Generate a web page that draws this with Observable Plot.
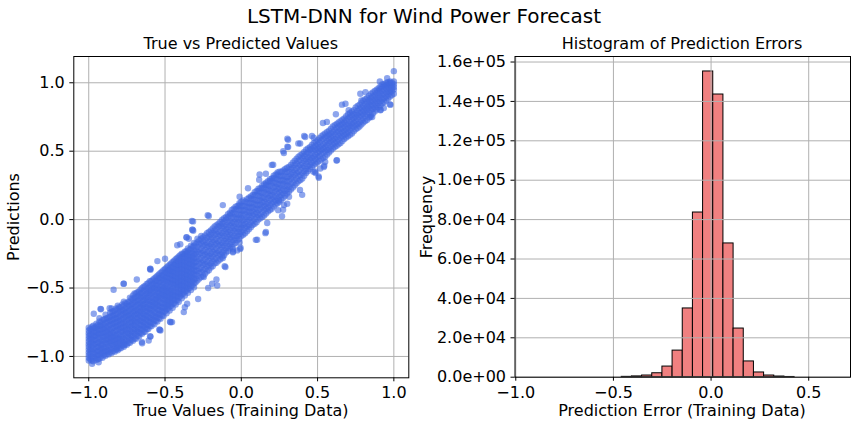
<!DOCTYPE html>
<html>
<head>
<meta charset="utf-8">
<script src="https://cdn.jsdelivr.net/npm/d3@7"></script>
<script src="https://cdn.jsdelivr.net/npm/@observablehq/plot@0.6"></script>
<style>
  html, body { margin: 0; padding: 0; background: white; }
  #fig { position: relative; width: 856px; height: 426px; background: white; font-family: "DejaVu Sans", sans-serif; color: black; overflow: hidden; }
  #fig .panel { position: absolute; top: 0; }
  #fig .lbl { position: absolute; white-space: nowrap; line-height: 1; transform: translate(-50%, -50%); }
  #fig .rot { transform: translate(-50%, -50%) rotate(-90deg); }
</style>
</head>
<body>
<div id="fig"></div>
<script>
// ---------------- Data ----------------
const figureTitle = "LSTM-DNN for Wind Power Forecast";
const scatterTitle = "True vs Predicted Values";
const histTitle = "Histogram of Prediction Errors";
const scatterXLabel = "True Values (Training Data)";
const scatterYLabel = "Predictions";
const histXLabel = "Prediction Error (Training Data)";
const histYLabel = "Frequency";

const scatterTicks = [-1.0, -0.5, 0.0, 0.5, 1.0];
const histXTicks = [-1.0, -0.5, 0.0, 0.5];
const histYTicks = [0, 20000, 40000, 60000, 80000, 100000, 120000, 140000, 160000];

// True values (columns) and the predictions read at each of them
const trueColumns = [
  -1.00, -0.99, -0.98, -0.96, -0.94, -0.92, -0.90, -0.88, -0.86, -0.84,
  -0.82, -0.80, -0.78, -0.76, -0.74, -0.72, -0.70, -0.68, -0.66, -0.64,
  -0.62, -0.60, -0.58, -0.56, -0.54, -0.52, -0.50, -0.48, -0.46, -0.44,
  -0.42, -0.40, -0.38, -0.36, -0.34, -0.32, -0.30,
  -0.275, -0.25, -0.225, -0.20, -0.175, -0.15, -0.125, -0.10, -0.075, -0.05,
  -0.025, 0.00, 0.025, 0.05, 0.075, 0.10, 0.125, 0.15, 0.175, 0.20,
  0.225, 0.25, 0.275, 0.30, 0.325, 0.35, 0.375, 0.40, 0.425, 0.45,
  0.475, 0.50, 0.525, 0.55, 0.575, 0.60, 0.625, 0.65, 0.675, 0.70,
  0.725, 0.75, 0.775, 0.80, 0.825, 0.85, 0.875, 0.90, 0.925, 0.95,
  0.975, 1.00
];
const predictionColumns = [
  [-1.03,-1.01,-0.99,-0.97,-0.95,-0.93,-0.91,-0.89,-0.87,-0.85,-0.83,-0.81,-0.79],
  [-1.02,-0.98,-0.95,-0.91,-0.87,-0.84,-0.80],
  [-1.03,-1.00,-0.96,-0.93,-0.90,-0.87,-0.84,-0.81],
  [-1.01,-0.98,-0.95,-0.91,-0.88,-0.85,-0.82,-0.79],
  [-1.02,-0.99,-0.96,-0.93,-0.90,-0.86,-0.83,-0.80,-0.77],
  [-1.00,-0.97,-0.94,-0.91,-0.88,-0.84,-0.81,-0.78,-0.75],
  [-0.99,-0.96,-0.93,-0.89,-0.86,-0.83,-0.80,-0.77,-0.73],
  [-0.98,-0.95,-0.91,-0.88,-0.85,-0.82,-0.79,-0.75,-0.72],
  [-0.97,-0.94,-0.90,-0.87,-0.84,-0.81,-0.77,-0.74,-0.71,-0.68],
  [-0.96,-0.92,-0.89,-0.86,-0.83,-0.79,-0.76,-0.73,-0.70,-0.67],
  [-0.95,-0.91,-0.88,-0.85,-0.81,-0.78,-0.75,-0.72,-0.69,-0.65],
  [-0.94,-0.90,-0.87,-0.84,-0.80,-0.77,-0.74,-0.71,-0.67,-0.64],
  [-0.92,-0.89,-0.86,-0.82,-0.79,-0.76,-0.73,-0.69,-0.66,-0.62],
  [-0.91,-0.88,-0.84,-0.81,-0.78,-0.75,-0.71,-0.68,-0.65,-0.61],
  [-0.90,-0.86,-0.83,-0.80,-0.77,-0.73,-0.70,-0.67,-0.63,-0.60],
  [-0.88,-0.85,-0.82,-0.78,-0.75,-0.72,-0.69,-0.65,-0.62,-0.58],
  [-0.87,-0.83,-0.80,-0.77,-0.74,-0.70,-0.67,-0.64,-0.60,-0.57,-0.54],
  [-0.85,-0.82,-0.79,-0.75,-0.72,-0.69,-0.66,-0.62,-0.59,-0.56,-0.53],
  [-0.83,-0.80,-0.77,-0.74,-0.70,-0.67,-0.64,-0.61,-0.57,-0.54,-0.51],
  [-0.82,-0.78,-0.75,-0.72,-0.69,-0.65,-0.62,-0.59,-0.56,-0.52,-0.49],
  [-0.80,-0.77,-0.73,-0.70,-0.67,-0.64,-0.60,-0.57,-0.54,-0.51,-0.47],
  [-0.78,-0.75,-0.72,-0.68,-0.65,-0.62,-0.59,-0.55,-0.52,-0.49,-0.45],
  [-0.76,-0.73,-0.70,-0.66,-0.63,-0.60,-0.57,-0.53,-0.50,-0.47,-0.44],
  [-0.74,-0.71,-0.68,-0.64,-0.61,-0.58,-0.55,-0.51,-0.48,-0.45,-0.42],
  [-0.72,-0.69,-0.66,-0.63,-0.59,-0.56,-0.53,-0.50,-0.46,-0.43,-0.40],
  [-0.70,-0.67,-0.64,-0.61,-0.57,-0.54,-0.51,-0.48,-0.44,-0.41,-0.38],
  [-0.67,-0.64,-0.61,-0.58,-0.55,-0.52,-0.49,-0.45,-0.42,-0.39,-0.36],
  [-0.65,-0.62,-0.59,-0.56,-0.53,-0.50,-0.46,-0.43,-0.40,-0.37,-0.34],
  [-0.63,-0.60,-0.57,-0.54,-0.51,-0.47,-0.44,-0.41,-0.38,-0.35,-0.32],
  [-0.61,-0.58,-0.55,-0.52,-0.48,-0.45,-0.42,-0.39,-0.36,-0.33,-0.30],
  [-0.59,-0.56,-0.53,-0.49,-0.46,-0.43,-0.40,-0.37,-0.34,-0.31,-0.28],
  [-0.56,-0.53,-0.50,-0.47,-0.44,-0.41,-0.38,-0.35,-0.32,-0.29,-0.26],
  [-0.54,-0.51,-0.48,-0.45,-0.42,-0.39,-0.36,-0.33,-0.30,-0.27,-0.25],
  [-0.52,-0.49,-0.46,-0.43,-0.40,-0.37,-0.34,-0.31,-0.28,-0.25,-0.23],
  [-0.50,-0.47,-0.44,-0.41,-0.38,-0.35,-0.32,-0.29,-0.26,-0.22],
  [-0.48,-0.45,-0.42,-0.39,-0.36,-0.33,-0.30,-0.27,-0.24,-0.20],
  [-0.46,-0.43,-0.40,-0.37,-0.34,-0.31,-0.28,-0.25,-0.22,-0.18],
  [-0.43,-0.39,-0.36,-0.32,-0.29,-0.25,-0.22,-0.18,-0.15],
  [-0.41,-0.37,-0.33,-0.30,-0.26,-0.23,-0.19,-0.16,-0.13],
  [-0.38,-0.34,-0.31,-0.27,-0.24,-0.20,-0.17,-0.13,-0.10],
  [-0.35,-0.32,-0.28,-0.25,-0.21,-0.18,-0.14,-0.11,-0.08],
  [-0.32,-0.29,-0.25,-0.22,-0.18,-0.15,-0.11,-0.08,-0.05],
  [-0.30,-0.26,-0.23,-0.19,-0.16,-0.12,-0.09,-0.05,-0.03],
  [-0.27,-0.24,-0.20,-0.17,-0.13,-0.10,-0.06,-0.03,0.00],
  [-0.24,-0.21,-0.17,-0.14,-0.10,-0.07,-0.04,0.00,0.02],
  [-0.21,-0.18,-0.14,-0.11,-0.08,-0.04,-0.01,0.03,0.05],
  [-0.18,-0.15,-0.12,-0.08,-0.05,-0.02,0.02,0.05,0.08],
  [-0.15,-0.12,-0.09,-0.06,-0.02,0.01,0.04,0.08,0.10],
  [-0.12,-0.09,-0.06,-0.03,0.01,0.04,0.07,0.10,0.13],
  [-0.10,-0.06,-0.03,0.00,0.04,0.07,0.10,0.13],
  [-0.07,-0.04,0.00,0.03,0.06,0.09,0.12,0.16],
  [-0.04,-0.01,0.03,0.06,0.09,0.12,0.15,0.18],
  [-0.02,0.02,0.05,0.08,0.11,0.14,0.18,0.21],
  [0.01,0.04,0.08,0.11,0.14,0.17,0.20,0.23],
  [0.03,0.07,0.10,0.13,0.16,0.20,0.23,0.26],
  [0.06,0.09,0.12,0.16,0.19,0.22,0.25,0.28],
  [0.08,0.12,0.15,0.18,0.21,0.25,0.28,0.30],
  [0.11,0.14,0.17,0.21,0.24,0.27,0.30,0.33],
  [0.13,0.17,0.20,0.23,0.26,0.29,0.32,0.35],
  [0.16,0.19,0.22,0.26,0.29,0.32,0.36],
  [0.19,0.22,0.25,0.28,0.31,0.35,0.38],
  [0.22,0.26,0.30,0.33,0.37,0.40],
  [0.25,0.29,0.33,0.36,0.40,0.43],
  [0.28,0.32,0.35,0.39,0.43,0.46],
  [0.30,0.34,0.38,0.41,0.45,0.48],
  [0.34,0.37,0.41,0.44,0.48,0.51],
  [0.37,0.40,0.44,0.47,0.51,0.53],
  [0.40,0.43,0.46,0.50,0.53,0.56],
  [0.42,0.46,0.49,0.52,0.55,0.58],
  [0.44,0.48,0.51,0.54,0.58,0.61],
  [0.46,0.50,0.53,0.56,0.60,0.63],
  [0.49,0.52,0.56,0.59,0.62,0.65],
  [0.52,0.55,0.58,0.61,0.64,0.68],
  [0.54,0.57,0.60,0.64,0.67,0.70],
  [0.56,0.60,0.63,0.66,0.69,0.72],
  [0.59,0.62,0.65,0.68,0.71,0.74],
  [0.61,0.64,0.67,0.70,0.74,0.77],
  [0.63,0.67,0.70,0.73,0.76,0.79],
  [0.66,0.69,0.72,0.75,0.78,0.82],
  [0.68,0.71,0.75,0.78,0.81,0.84],
  [0.71,0.74,0.77,0.80,0.83,0.87],
  [0.73,0.77,0.80,0.83,0.86,0.89],
  [0.76,0.80,0.83,0.86,0.89,0.92],
  [0.79,0.82,0.85,0.88,0.91,0.94],
  [0.82,0.85,0.88,0.91,0.94,0.96],
  [0.85,0.88,0.91,0.94,0.97,0.99],
  [0.87,0.90,0.93,0.96,0.98,1.00],
  [0.90,0.93,0.95,0.98,1.00,1.01],
  [0.92,0.95,0.97,0.99,1.01]
];
// Second set of columns lying between the first ones
const trueColumnsB = [
  -0.97, -0.95, -0.93, -0.91, -0.89, -0.87, -0.85, -0.83, -0.81, -0.79,
  -0.77, -0.75, -0.73, -0.71, -0.69, -0.67, -0.65, -0.63, -0.61, -0.59,
  -0.57, -0.55, -0.53, -0.51, -0.49, -0.47, -0.45, -0.43, -0.41, -0.39,
  -0.37, -0.35, -0.33, -0.31,
  -0.2875, -0.2625, -0.2375, -0.2125, -0.1875, -0.1625, -0.1375, -0.1125, -0.0875, -0.0625,
  -0.0375, -0.0125, 0.0125, 0.0375, 0.0625, 0.0875, 0.1125, 0.1375, 0.1625, 0.1875,
  0.2125, 0.2375, 0.2625, 0.2875, 0.3125, 0.3375, 0.3625, 0.3875, 0.4125, 0.4375,
  0.4625, 0.4875, 0.5125, 0.5375, 0.5625, 0.5875, 0.6125, 0.6375, 0.6625, 0.6875,
  0.7125, 0.7375, 0.7625, 0.7875, 0.8125, 0.8375, 0.8625, 0.8875, 0.9125, 0.9375,
  0.9625, 0.9875
];
const predictionColumnsB = [
  [-1.035,-1.005,-0.975,-0.945,-0.915,-0.885,-0.855,-0.825,-0.795,-0.775],
  [-1.025,-0.995,-0.965,-0.935,-0.905,-0.875,-0.845,-0.815,-0.785,-0.76],
  [-1.015,-0.985,-0.955,-0.925,-0.895,-0.865,-0.835,-0.805,-0.775,-0.745,-0.72],
  [-1.01,-0.975,-0.945,-0.915,-0.885,-0.855,-0.825,-0.795,-0.765,-0.735],
  [-0.995,-0.965,-0.935,-0.905,-0.875,-0.845,-0.815,-0.785,-0.755,-0.725,-0.695],
  [-0.985,-0.955,-0.925,-0.895,-0.865,-0.835,-0.805,-0.775,-0.745,-0.715],
  [-0.975,-0.945,-0.915,-0.885,-0.855,-0.825,-0.795,-0.765,-0.735,-0.705,-0.675,-0.65],
  [-0.965,-0.935,-0.905,-0.875,-0.845,-0.815,-0.785,-0.755,-0.725,-0.695,-0.665],
  [-0.955,-0.925,-0.895,-0.865,-0.835,-0.805,-0.775,-0.745,-0.715,-0.685,-0.655,-0.63],
  [-0.94,-0.91,-0.88,-0.85,-0.82,-0.79,-0.76,-0.73,-0.70,-0.67,-0.64],
  [-0.93,-0.90,-0.87,-0.84,-0.81,-0.78,-0.75,-0.72,-0.69,-0.66,-0.63,-0.60],
  [-0.915,-0.885,-0.855,-0.825,-0.795,-0.765,-0.735,-0.705,-0.675,-0.645,-0.615],
  [-0.90,-0.87,-0.84,-0.81,-0.78,-0.75,-0.72,-0.69,-0.66,-0.63,-0.60,-0.57],
  [-0.885,-0.855,-0.825,-0.795,-0.765,-0.735,-0.705,-0.675,-0.645,-0.615,-0.585,-0.555],
  [-0.87,-0.84,-0.81,-0.78,-0.75,-0.72,-0.69,-0.66,-0.63,-0.60,-0.57,-0.54],
  [-0.855,-0.825,-0.795,-0.765,-0.735,-0.705,-0.675,-0.645,-0.615,-0.585,-0.555,-0.525],
  [-0.835,-0.805,-0.775,-0.745,-0.715,-0.685,-0.655,-0.625,-0.595,-0.565,-0.535,-0.50],
  [-0.82,-0.79,-0.76,-0.73,-0.70,-0.67,-0.64,-0.61,-0.58,-0.55,-0.52,-0.485],
  [-0.80,-0.77,-0.74,-0.71,-0.68,-0.65,-0.62,-0.59,-0.56,-0.53,-0.50,-0.465],
  [-0.78,-0.75,-0.72,-0.69,-0.66,-0.63,-0.60,-0.57,-0.54,-0.51,-0.48,-0.45],
  [-0.765,-0.735,-0.705,-0.675,-0.645,-0.615,-0.585,-0.555,-0.525,-0.495,-0.465,-0.43],
  [-0.745,-0.715,-0.685,-0.655,-0.625,-0.595,-0.565,-0.535,-0.505,-0.475,-0.445,-0.41],
  [-0.725,-0.695,-0.665,-0.635,-0.605,-0.575,-0.545,-0.515,-0.485,-0.455,-0.425,-0.39],
  [-0.705,-0.675,-0.645,-0.615,-0.585,-0.555,-0.525,-0.495,-0.465,-0.435,-0.405,-0.37],
  [-0.685,-0.655,-0.625,-0.595,-0.565,-0.535,-0.505,-0.475,-0.445,-0.415,-0.385,-0.35],
  [-0.665,-0.635,-0.605,-0.575,-0.545,-0.515,-0.485,-0.455,-0.425,-0.395,-0.365,-0.33],
  [-0.645,-0.615,-0.585,-0.555,-0.525,-0.495,-0.465,-0.435,-0.405,-0.375,-0.345,-0.31],
  [-0.62,-0.59,-0.56,-0.53,-0.50,-0.47,-0.44,-0.41,-0.38,-0.35,-0.32,-0.29],
  [-0.60,-0.57,-0.54,-0.51,-0.48,-0.45,-0.42,-0.39,-0.36,-0.33,-0.30,-0.27],
  [-0.575,-0.545,-0.515,-0.485,-0.455,-0.425,-0.395,-0.365,-0.335,-0.305,-0.275,-0.25],
  [-0.555,-0.525,-0.495,-0.465,-0.435,-0.405,-0.375,-0.345,-0.315,-0.285,-0.255,-0.235],
  [-0.535,-0.505,-0.475,-0.445,-0.415,-0.385,-0.355,-0.325,-0.295,-0.265,-0.235,-0.21],
  [-0.515,-0.485,-0.455,-0.425,-0.395,-0.365,-0.335,-0.305,-0.275,-0.245,-0.215,-0.19],
  [-0.495,-0.465,-0.435,-0.405,-0.375,-0.345,-0.315,-0.285,-0.255,-0.225,-0.195,-0.17],
  [-0.445,-0.41,-0.375,-0.34,-0.305,-0.27,-0.235,-0.20,-0.165,-0.14],
  [-0.42,-0.385,-0.35,-0.315,-0.28,-0.245,-0.21,-0.175,-0.14,-0.12],
  [-0.395,-0.36,-0.325,-0.29,-0.255,-0.22,-0.185,-0.15,-0.115],
  [-0.37,-0.335,-0.30,-0.265,-0.23,-0.195,-0.16,-0.125,-0.09],
  [-0.34,-0.305,-0.27,-0.235,-0.20,-0.165,-0.13,-0.095,-0.065],
  [-0.315,-0.28,-0.245,-0.21,-0.175,-0.14,-0.105,-0.07,-0.04],
  [-0.29,-0.255,-0.22,-0.185,-0.15,-0.115,-0.08,-0.045,-0.015],
  [-0.26,-0.225,-0.19,-0.155,-0.12,-0.085,-0.05,-0.015,0.01],
  [-0.23,-0.195,-0.16,-0.125,-0.09,-0.055,-0.02,0.015,0.04],
  [-0.20,-0.165,-0.13,-0.095,-0.06,-0.025,0.01,0.045,0.07],
  [-0.17,-0.135,-0.10,-0.065,-0.03,0.005,0.04,0.075,0.095],
  [-0.14,-0.105,-0.07,-0.035,0.00,0.035,0.07,0.105,0.12],
  [-0.11,-0.075,-0.04,-0.005,0.03,0.065,0.10,0.14],
  [-0.085,-0.05,-0.015,0.02,0.055,0.09,0.125,0.15],
  [-0.055,-0.02,0.015,0.05,0.085,0.12,0.155,0.17],
  [-0.03,0.005,0.04,0.075,0.11,0.145,0.18,0.20],
  [0.00,0.035,0.07,0.105,0.14,0.175,0.21,0.225],
  [0.02,0.055,0.09,0.125,0.16,0.195,0.23,0.25],
  [0.045,0.08,0.115,0.15,0.185,0.22,0.255,0.27],
  [0.07,0.105,0.14,0.175,0.21,0.245,0.28,0.295],
  [0.095,0.13,0.165,0.20,0.235,0.27,0.305,0.32],
  [0.12,0.155,0.19,0.225,0.26,0.295,0.33,0.345],
  [0.145,0.18,0.215,0.25,0.285,0.32,0.35],
  [0.175,0.21,0.245,0.28,0.315,0.35,0.37],
  [0.205,0.24,0.28,0.315,0.35,0.385],
  [0.235,0.27,0.31,0.345,0.38,0.415],
  [0.265,0.30,0.34,0.375,0.41,0.445],
  [0.29,0.325,0.365,0.40,0.435,0.47],
  [0.32,0.355,0.39,0.43,0.465,0.495],
  [0.355,0.39,0.425,0.455,0.49,0.52],
  [0.385,0.415,0.45,0.485,0.515,0.545],
  [0.41,0.445,0.475,0.51,0.54,0.57],
  [0.43,0.465,0.50,0.53,0.565,0.595],
  [0.45,0.49,0.52,0.55,0.59,0.62],
  [0.475,0.51,0.545,0.575,0.61,0.64],
  [0.505,0.535,0.57,0.60,0.63,0.665],
  [0.53,0.56,0.59,0.625,0.655,0.69],
  [0.55,0.585,0.615,0.645,0.68,0.71],
  [0.575,0.61,0.64,0.67,0.70,0.73],
  [0.60,0.63,0.66,0.695,0.725,0.755],
  [0.62,0.655,0.685,0.715,0.75,0.78],
  [0.645,0.68,0.71,0.74,0.77,0.80],
  [0.67,0.70,0.735,0.765,0.795,0.83],
  [0.695,0.725,0.76,0.79,0.82,0.855],
  [0.72,0.755,0.785,0.815,0.845,0.88],
  [0.745,0.785,0.815,0.845,0.875,0.905],
  [0.775,0.81,0.84,0.87,0.90,0.93],
  [0.805,0.835,0.865,0.895,0.925,0.95],
  [0.835,0.865,0.895,0.925,0.955,0.975],
  [0.86,0.89,0.92,0.95,0.975,0.99],
  [0.885,0.915,0.94,0.97,0.99,1.005],
  [0.91,0.94,0.96,0.985,1.00]
];
// Points along the ragged edges of the band
const fringeTrue = [
  0.302, 0.302, 0.412, 0.463, 0.374, 0.275, 0.209, 0.161, 0.117, 0.044,
  -0.011, -0.121, -0.22, -0.324, -0.319, -0.359, 0.507, 0.544, 0.485, 0.385,
  0.313, 0.280, 0.267, 0.242, 0.170, 0.161, 0.095, -0.007, -0.055, -0.121,
  0.908, 0.956, 0.814, 0.787, 0.66, 0.704, 0.561, 0.535, 0.419, 0.386,
  0.978, 0.934, 0.912, 0.846, 0.627, 0.55, 0.518, 0.474,
  -0.772, -0.837, -0.92, -0.978, -0.863, -0.685, -0.598, -0.55, -0.5, -0.42,
  -0.359, -0.315, -0.935, -0.978, -0.815, -0.772, -0.652, -0.598, -0.537, -0.467,
  -0.37, -0.283, -0.217, -0.163, -0.109, -0.054, -0.011
];
const fringePred = [
  0.591, 0.532, 0.611, 0.611, 0.557, 0.50, 0.401, 0.335, 0.291, 0.229,
  0.167, 0.106, 0.032, -0.010, -0.074, -0.128, 0.315, 0.394, 0.352, 0.217,
  0.167, 0.106, 0.025, 0.069, -0.025, -0.091, -0.148, -0.214, -0.239, -0.281,
  1.01, 1.034, 0.932, 0.871, 0.84, 0.799, 0.714, 0.706, 0.604, 0.556,
  0.84, 0.816, 0.799, 0.75, 0.434, 0.422, 0.374, 0.35,
  -0.468, -0.512, -0.655, -0.783, -0.648, -0.438, -0.36, -0.303, -0.286, -0.187,
  -0.13, -0.081, -1.042, -1.054, -0.943, -0.919, -0.894, -0.852, -0.803, -0.746,
  -0.64, -0.58, -0.50, -0.438, -0.34, -0.217, -0.167
];
// Scattered points lying away from the main band
const outlierTrue = [
  1.00, 0.974, 0.913, 0.858, 0.683, 0.624, 0.508, 0.541, 0.486, 0.307,
  0.307, 0.279, 0.475, 0.399, 0.301, 0.274, 0.246, 0.158, 0.104, -0.005,
  -0.027, -0.054, -0.213, -0.316, -0.322, -0.344, -0.104, -0.158, -0.191, -0.246,
  -0.475, -0.596, -0.770, -0.454, -0.530, -0.607, -0.650, -0.377, -0.355, -0.923,
  -0.967, -0.595, -0.464, -0.535, -0.595, 0.20, 0.12, -0.40, 0.62, 0.78
];
const outlierPred = [
  1.085, 0.842, 0.803, 0.749, 0.847, 0.432, 0.306, 0.384, 0.340, 0.583,
  0.530, 0.486, 0.598, 0.181, 0.116, 0.072, 0.140, -0.099, -0.147, -0.206,
  -0.225, -0.233, 0.026, -0.013, -0.074, -0.140, -0.347, -0.481, -0.469, -0.420,
  -0.372, -0.359, -0.469, -0.749, -0.810, -0.883, -0.903, -0.676, -0.615, -0.652,
  -0.688, -0.367, -0.750, -0.806, -0.855, 0.40, 0.33, -0.18, 0.77, 0.92
];

// Histogram of prediction errors: 30 equal bins over the error range
const errorRange = [-0.926, 0.636];
const errorCounts = [
  2, 0, 1, 3, 5, 9, 18, 40, 90, 180,
  400, 850, 2000, 5400, 13500, 34900, 83600, 155200, 143500, 67900,
  24700, 8000, 2400, 850, 340, 120, 45, 15, 5, 2
];

// ---------------- Build ----------------
const scatterData = trueColumns.flatMap((t, i) => predictionColumns[i].map(p => ({t, p})))
  .concat(trueColumnsB.flatMap((t, i) => predictionColumnsB[i].map(p => ({t, p}))))
  .concat(fringeTrue.map((t, i) => ({t, p: fringePred[i]})))
  .concat(outlierTrue.map((t, i) => ({t, p: outlierPred[i]})));
const binWidth = (errorRange[1] - errorRange[0]) / errorCounts.length;
const bins = errorCounts.map((c, i) => ({
  x1: errorRange[0] + i * binWidth,
  x2: errorRange[0] + (i + 1) * binWidth,
  count: c
}));
// bars lower than half a pixel cannot be seen; they are not drawn
const visibleBins = bins.filter(b => b.count >= 100);

const fmt1 = d3.format(".1f");
const fmtExp = d => {
  const [m, e] = d.toExponential(1).split("e");
  return m + "e" + e[0] + e.slice(1).padStart(2, "0");
};
const FS = 16;
const gridColor = "#b0b0b0";
const baseStyle = {fontFamily: "DejaVu Sans", fontSize: FS + "px", color: "black", background: "transparent", overflow: "visible"};

const scatter = Plot.plot({
  width: 428, height: 426,
  marginLeft: 73.3, marginRight: 19.7, marginTop: 56, marginBottom: 48.7,
  style: baseStyle,
  x: {domain: [-1.098, 1.098]},
  y: {domain: [-1.156, 1.192]},
  marks: [
    Plot.gridX(scatterTicks, {stroke: gridColor, strokeOpacity: 1, strokeWidth: 1}),
    Plot.gridY(scatterTicks, {stroke: gridColor, strokeOpacity: 1, strokeWidth: 1}),
    Plot.dot(scatterData, {x: "t", y: "p", r: 3.2, fill: "#4169E1", fillOpacity: 0.6, stroke: "none"}),
    Plot.frame({stroke: "black", strokeWidth: 1}),
    Plot.axisX(scatterTicks, {tickSize: 4, tickPadding: 5, tickFormat: fmt1, label: null, fontSize: FS}),
    Plot.axisY(scatterTicks, {tickSize: 4, tickPadding: 5, tickFormat: fmt1, label: null, fontSize: FS})
  ]
});

const hist = Plot.plot({
  width: 428, height: 426,
  marginLeft: 86.5, marginRight: 6, marginTop: 56, marginBottom: 49.3,
  style: baseStyle,
  x: {domain: [-1.004, 0.714]},
  y: {domain: [0, 162800]},
  marks: [
    Plot.rectY(visibleBins, {x1: "x1", x2: "x2", y: "count", fill: "#F08080", stroke: "black", strokeWidth: 1}),
    Plot.gridX(histXTicks, {stroke: gridColor, strokeOpacity: 1, strokeWidth: 1}),
    Plot.gridY(histYTicks, {stroke: gridColor, strokeOpacity: 1, strokeWidth: 1}),
    Plot.frame({stroke: "black", strokeWidth: 1}),
    Plot.axisX(histXTicks, {tickSize: 4, tickPadding: 5, tickFormat: fmt1, label: null, fontSize: FS}),
    Plot.axisY(histYTicks, {tickSize: 4, tickPadding: 5, tickFormat: fmtExp, label: null, fontSize: FS})
  ]
});

const fig = document.getElementById("fig");
scatter.classList.add("panel"); scatter.style.left = "0px";
hist.classList.add("panel"); hist.style.left = "428px";
fig.appendChild(scatter);
fig.appendChild(hist);

function addLabel(text, cx, baseline, fs, rotated) {
  const d = document.createElement("div");
  d.className = "lbl" + (rotated ? " rot" : "");
  d.textContent = text;
  d.style.fontSize = fs + "px";
  if (rotated) {
    d.style.left = (baseline - 0.346 * fs) + "px";
    d.style.top = cx + "px";
  } else {
    d.style.left = cx + "px";
    d.style.top = (baseline - 0.346 * fs) + "px";
  }
  fig.appendChild(d);
}
addLabel(figureTitle, 424, 23.3, 20, false);
addLabel(scatterTitle, 240.8, 50, FS, false);
addLabel(histTitle, 682, 50, FS, false);
addLabel(scatterXLabel, 240.8, 417, FS, false);
addLabel(histXLabel, 682, 417, FS, false);
addLabel(scatterYLabel, 217, 20, FS, true);
addLabel(histYLabel, 217, 433, FS, true);
</script>
</body>
</html>
